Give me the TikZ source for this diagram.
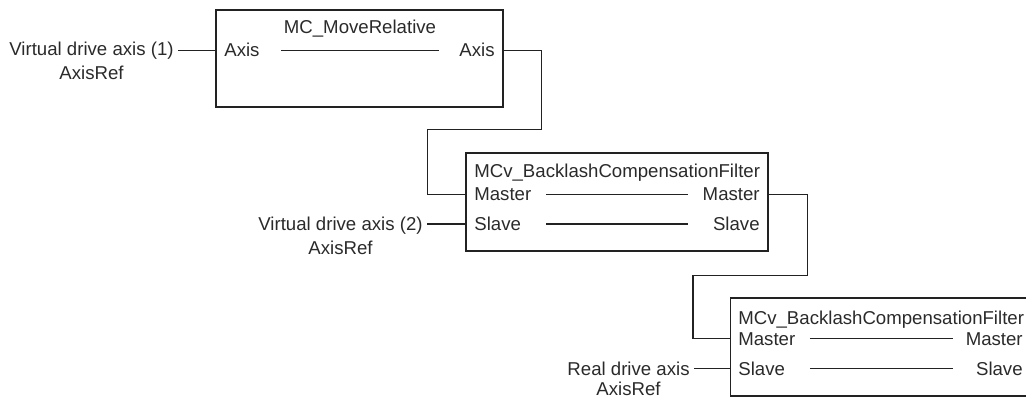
\documentclass[tikz,border=0pt]{standalone}
\usepackage{fontspec}
\setmainfont{Liberation Sans}
\usetikzlibrary{calc}
\definecolor{DiagLine}{HTML}{222222}
\definecolor{DiagText}{HTML}{2A2A2A}
\tikzset{
    % Function block frame
    fbframe/.style={
        draw=DiagLine,
        line width=0.75pt,
        inner sep=0pt
    },
    % Block header text
    fbtitle/.style={
        text=DiagText,
        inner sep=0pt,
        font=\fontsize{10.6}{12.7}\selectfont
    },
    % Pin text inside a block
    pinlabel/.style={
        fbtitle
    },
    % Axis variable outside a block
    axislabel/.style={
        fbtitle,
        inner xsep=2.3pt
    },
    % Signal lines
    sigline/.style={
        draw=DiagLine,
        line width=0.75pt
    }
}
\begin{document}
\begin{tikzpicture}[x=0.02cm, y=-0.02cm]
        \useasboundingbox (0,0) rectangle (1026,398);

        % Function blocks
        \node[fbframe, minimum width=5.74cm, minimum height=1.94cm] (mvr) at (359.5,58.5) {};
        \node[fbframe, minimum width=6.04cm, minimum height=1.96cm] (bcf1) at (617,202) {};
        \node[fbframe, minimum width=6.02cm, minimum height=1.96cm] (bcf2) at (881,347) {};

        % Block headers
        \node[fbtitle, anchor=base] (mvrtitle) at (360,34) {MC\_MoveRelative};
        \node[fbtitle, anchor=base west] (bcf1title) at (474,177.5) {MCv\_BacklashCompensationFilter};
        \node[fbtitle, anchor=base west] (bcf2title) at (738,324) {MCv\_BacklashCompensationFilter};

        % Pins
        \node[pinlabel, anchor=base west] (mvrin) at (224,57) {Axis};
        \node[pinlabel, anchor=base east] (mvrout) at (495,57) {Axis};
        \node[pinlabel, anchor=base west] (bcf1min) at (474,201) {Master};
        \node[pinlabel, anchor=base east] (bcf1mout) at (760,201) {Master};
        \node[pinlabel, anchor=base west] (bcf1sin) at (474,230.5) {Slave};
        \node[pinlabel, anchor=base east] (bcf1sout) at (760,230.5) {Slave};
        \node[pinlabel, anchor=base west] (bcf2min) at (738,345) {Master};
        \node[pinlabel, anchor=base east] (bcf2mout) at (1023,345) {Master};
        \node[pinlabel, anchor=base west] (bcf2sin) at (738,375) {Slave};
        \node[pinlabel, anchor=base east] (bcf2sout) at (1023,375) {Slave};

        % Pass-through lines
        \draw[sigline] ($(mvr.west |- mvrin.west)+(66,0)$) -- ($(mvr.east |- mvrin.west)+(-65,0)$);
        \draw[sigline] ($(bcf1.west |- bcf1min.west)+(81,0)$) -- ($(bcf1.east |- bcf1min.west)+(-81,0)$);
        \draw[sigline] ($(bcf1.west |- bcf1sin.west)+(81,0)$) -- ($(bcf1.east |- bcf1sin.west)+(-81,0)$);
        \draw[sigline] ($(bcf2.west |- bcf2min.west)+(80,0)$) -- ($(bcf2.east |- bcf2min.west)+(-79,0)$);
        \draw[sigline] ($(bcf2.west |- bcf2sin.west)+(80,0)$) -- ($(bcf2.east |- bcf2sin.west)+(-79,0)$);

        % Axis variables
        \node[axislabel, anchor=base east] (vax1) at (178,56) {Virtual drive axis (1)};
        \node[axislabel, anchor=base] (vax1t) at ($(vax1.base)+(0,24)$) {AxisRef};
        \node[axislabel, anchor=base east] (vax2) at (427,230.5) {Virtual drive axis (2)};
        \node[axislabel, anchor=base] (vax2t) at ($(vax2.base)+(0,24)$) {AxisRef};
        \node[axislabel, anchor=base east] (rax) at (694,375) {Real drive axis};
        \node[axislabel, anchor=base] (raxt) at ($(rax.base)+(0,20)$) {AxisRef};

        \draw[sigline] (vax1.east |- mvrin.west) -- (mvr.west |- mvrin.west);
        \draw[sigline] (vax2.east |- bcf1sin.west) -- (bcf1.west |- bcf1sin.west);
        \draw[sigline] (rax.east |- bcf2sin.west) -- (bcf2.west |- bcf2sin.west);

        % Axis chaining
        \draw[sigline] (mvr.east |- mvrout.east) -- ++(38,0) |- ($(mvr.south -| bcf1.west)+(-38,22)$) |- (bcf1.west |- bcf1min.west);
        \draw[sigline] (bcf1.east |- bcf1mout.east) -- ++(39,0) |- ($(bcf1.south -| bcf2.west)+(-37,24)$) |- (bcf2.west |- bcf2min.west);
    \end{tikzpicture}
\end{document}
